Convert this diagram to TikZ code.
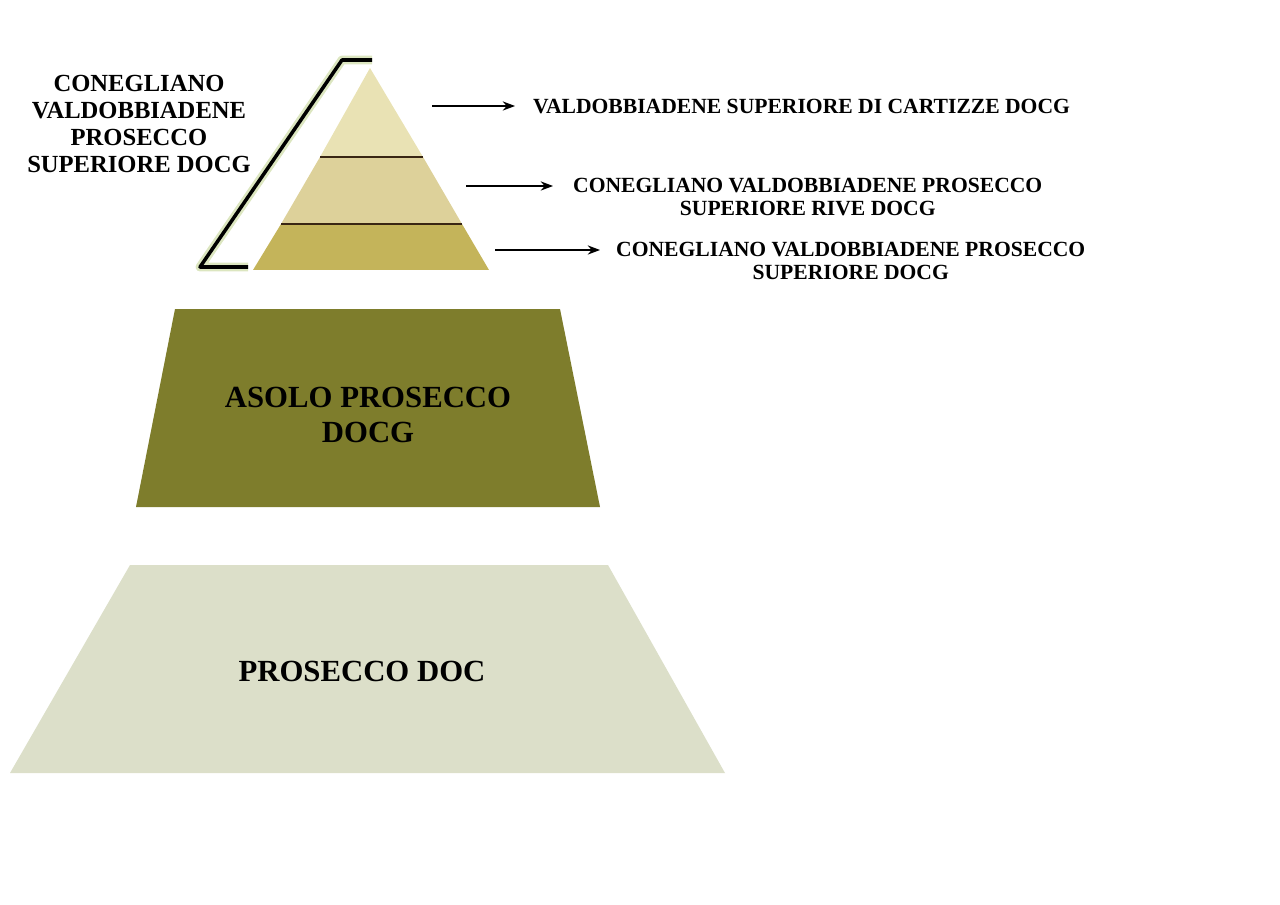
\documentclass[tikz,border=0pt]{standalone}
\usepackage{fontspec}
\setmainfont{Liberation Serif}
\usetikzlibrary{positioning,arrows.meta}
\definecolor{tipcol}{HTML}{E9E2B4}
\definecolor{rivecol}{HTML}{DDD19A}
\definecolor{supcol}{HTML}{C4B45A}
\definecolor{asolo}{HTML}{7E7D2C}
\definecolor{doc}{HTML}{DCDFC9}
\definecolor{glow}{HTML}{DCE6C0}
\begin{document}
\begin{tikzpicture}[x=0.02cm, y=-0.02cm,
    level/.style={font=\bfseries\fontsize{12.3}{12.8}\selectfont, align=center},
    big/.style={font=\bfseries\fontsize{17.5}{19.5}\selectfont, align=center},
    arrow/.style={-{Stealth[length=7pt]}, thick}
]
    \useasboundingbox (0,0) rectangle (1280,905);
    % top pyramid
    \fill[supcol] (281,224) -- (462,224) -- (489,270) -- (253,270) -- cycle;
    \fill[rivecol] (320,157) -- (423,157) -- (462,224) -- (281,224) -- cycle;
    \fill[tipcol] (370,68) -- (423,157) -- (320,157) -- cycle;
    \draw[black!70!brown, thick] (320,157) -- (423,157);
    \draw[black!70!brown, thick] (281,224) -- (462,224);
    % bracket
    \draw[glow, line width=5pt, line join=round] (372,60) -- (342,60) -- (200,267) -- (248,267);
    \draw[line width=2pt, line join=round] (372,60) -- (342,60) -- (200,267) -- (248,267);
    % lower levels
    \fill[asolo] (175,309) -- (560,309) -- (600,507) -- (136,507) -- cycle;
    \fill[doc] (130,565) -- (608,565) -- (725,773) -- (10,773) -- cycle;
    % labels
    \node[level, font=\bfseries\fontsize{14}{15.2}\selectfont] (group) at (139,124)
        {CONEGLIANO\\VALDOBBIADENE\\PROSECCO\\SUPERIORE DOCG};
    \node[big] (asololabel) at (368,415) {ASOLO PROSECCO\\DOCG};
    \node[big] (doclabel) at (362,671) {PROSECCO DOC};
    \node[level, anchor=west] (cartizze) at (527,107) {VALDOBBIADENE SUPERIORE DI CARTIZZE DOCG};
    \node[level, anchor=west] (rive) at (567,197) {CONEGLIANO VALDOBBIADENE PROSECCO\\SUPERIORE RIVE DOCG};
    \node[level, anchor=west] (superiore) at (610,261) {CONEGLIANO VALDOBBIADENE PROSECCO\\SUPERIORE DOCG};
    % arrows
    \coordinate (a1) at (432,106);
    \coordinate (b1) at (515,106);
    \coordinate (a2) at (466,186);
    \coordinate (b2) at (553,186);
    \coordinate (a3) at (495,250);
    \coordinate (b3) at (600,250);
    \draw[arrow] (a1) -- (b1);
    \draw[arrow] (a2) -- (b2);
    \draw[arrow] (a3) -- (b3);
\end{tikzpicture}
\end{document}
